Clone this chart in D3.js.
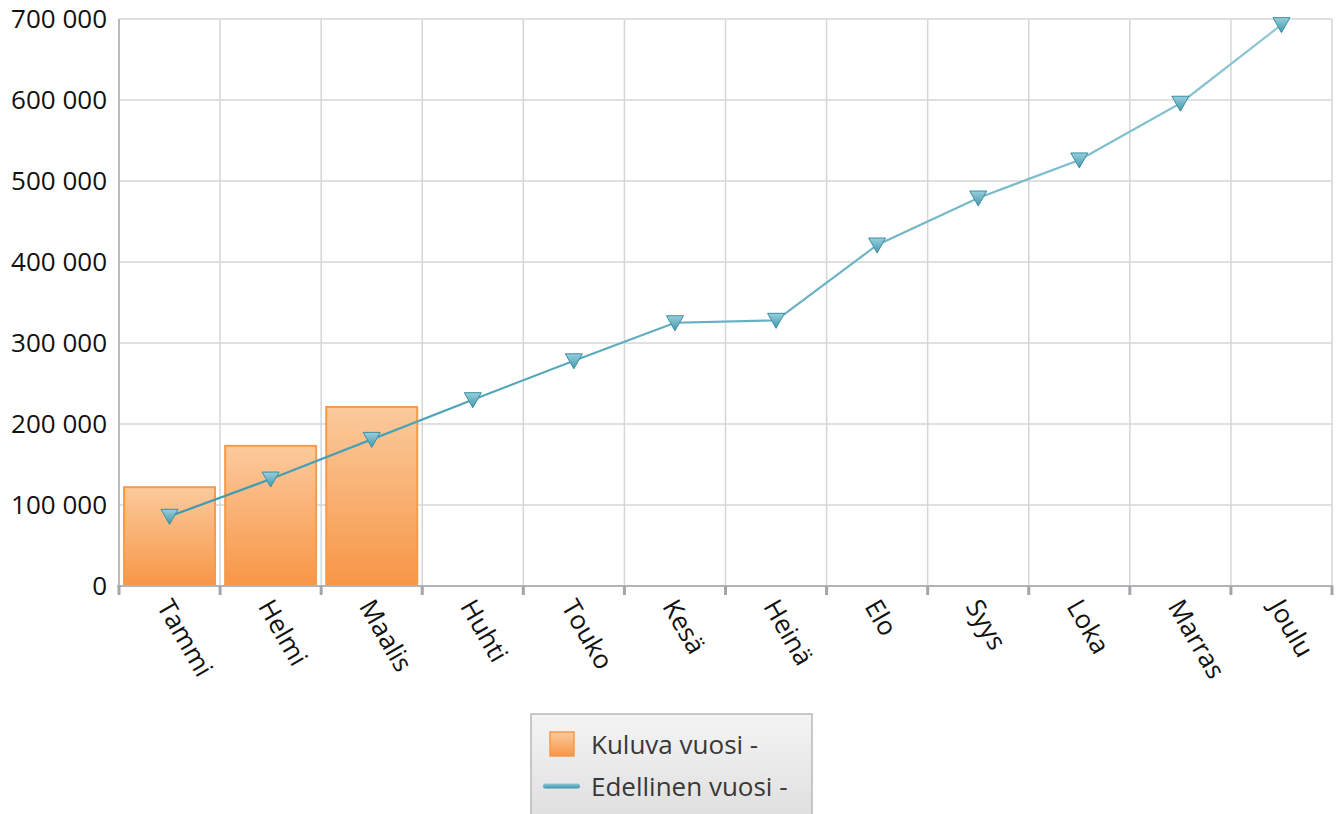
<!DOCTYPE html>
<html>
<head>
  <meta charset="UTF-8">
  <style>
body{
    margin: 0;
    background: #fff;
}
svg text{
    font-family: "Open Sans", "Noto Sans", sans-serif;
}
  </style>
</head>
<body>
<svg></svg>

<script src="https://cdn.jsdelivr.net/npm/d3@7/dist/d3.min.js"></script>

<script>

// chart data
let months = ["Tammi", "Helmi", "Maalis", "Huhti", "Touko", "Kesä", "Heinä", "Elo", "Syys", "Loka", "Marras", "Joulu"];
let currentYear = [122000, 173000, 221000];
let previousYear = [86000, 132000, 181000, 230000, 278000, 325000, 328000, 421000, 479000, 526000, 596000, 693000];
let yTicks = [0, 100000, 200000, 300000, 400000, 500000, 600000, 700000];
let legendLabels = ["Kuluva vuosi -", "Edellinen vuosi -"];

let width = 1340, height = 814;
let pLeft = 119, pRight = 1332, pTop = 19, pBottom = 586;

let svg = d3.select("svg")
    .attr("width", width)
    .attr("height", height)
    .attr("viewBox", "0 0 " + width + " " + height)

let fi = d3.formatLocale({decimal: ",", thousands: " ", grouping: [3], currency: ["", " €"]});
let fmt = fi.format(",");

let x = d3.scaleBand()
    .domain(months)
    .range([pLeft, pRight])
    .padding(0)

let y = d3.scaleLinear()
    .domain([0, 700000])
    .range([pBottom, pTop])

let defs = svg.append("defs");

let barGrad = defs.append("linearGradient")
    .attr("id", "barGrad")
    .attr("x1", 0).attr("y1", 0).attr("x2", 0).attr("y2", 1);
barGrad.append("stop").attr("offset", "0%").attr("stop-color", "#fbca9c");
barGrad.append("stop").attr("offset", "100%").attr("stop-color", "#f79647");

let lineGrad = defs.append("linearGradient")
    .attr("id", "lineGrad")
    .attr("gradientUnits", "userSpaceOnUse")
    .attr("x1", pLeft).attr("y1", 0).attr("x2", pRight).attr("y2", 0);
lineGrad.append("stop").attr("offset", "0%").attr("stop-color", "#3897ae");
lineGrad.append("stop").attr("offset", "100%").attr("stop-color", "#92c8d5");

let markGrad = defs.append("linearGradient")
    .attr("id", "markGrad")
    .attr("x1", 0).attr("y1", 0).attr("x2", 0).attr("y2", 1);
markGrad.append("stop").attr("offset", "0%").attr("stop-color", "#98cfdc");
markGrad.append("stop").attr("offset", "100%").attr("stop-color", "#4298ad");

let legGrad = defs.append("linearGradient")
    .attr("id", "legGrad")
    .attr("x1", 0).attr("y1", 0).attr("x2", 0).attr("y2", 1);
legGrad.append("stop").attr("offset", "0%").attr("stop-color", "#f4f4f4");
legGrad.append("stop").attr("offset", "100%").attr("stop-color", "#dedede");

let swLineGrad = defs.append("linearGradient")
    .attr("id", "swLineGrad")
    .attr("x1", 0).attr("y1", 0).attr("x2", 0).attr("y2", 1);
swLineGrad.append("stop").attr("offset", "0%").attr("stop-color", "#8ccad8");
swLineGrad.append("stop").attr("offset", "100%").attr("stop-color", "#3b93a9");

// grid
let grid = svg.append("g");
grid.selectAll("line.h")
    .data(yTicks)
  .enter().append("line")
    .attr("x1", pLeft).attr("x2", pRight)
    .attr("y1", d => y(d)).attr("y2", d => y(d))
    .attr("stroke", "#d6d6d6")
    .attr("stroke-width", 1.5)
grid.selectAll("line.v")
    .data(d3.range(1, months.length + 1))
  .enter().append("line")
    .attr("x1", d => pLeft + x.step() * d)
    .attr("x2", d => pLeft + x.step() * d)
    .attr("y1", pTop).attr("y2", pBottom)
    .attr("stroke", "#d6d6d6")
    .attr("stroke-width", 1.5)

// left axis line
svg.append("line")
    .attr("x1", pLeft).attr("x2", pLeft)
    .attr("y1", pTop).attr("y2", pBottom)
    .attr("stroke", "#b9b9b9")
    .attr("stroke-width", 2)

// y labels
svg.append("g").selectAll("text")
    .data(yTicks)
  .enter().append("text")
    .attr("x", 107)
    .attr("y", d => y(d))
    .attr("dy", "0.36em")
    .attr("text-anchor", "end")
    .attr("font-size", 26)
    .attr("fill", "#111")
    .text(d => fmt(d))

// bars
let inset = x.step() * 0.05;
svg.append("g").selectAll("rect")
    .data(currentYear)
  .enter().append("rect")
    .attr("x", (d, i) => x(months[i]) + inset)
    .attr("width", x.bandwidth() - inset * 2)
    .attr("y", d => y(d))
    .attr("height", d => pBottom - y(d))
    .attr("fill", "url(#barGrad)")
    .attr("stroke", "#f59b4b")
    .attr("stroke-width", 2)

// bottom axis
svg.append("line")
    .attr("x1", pLeft - 2).attr("x2", pRight + 1)
    .attr("y1", pBottom).attr("y2", pBottom)
    .attr("stroke", "#b4b4b4")
    .attr("stroke-width", 2)
svg.append("g").selectAll("line")
    .data(d3.range(months.length + 1))
  .enter().append("line")
    .attr("x1", d => pLeft + x.step() * d)
    .attr("x2", d => pLeft + x.step() * d)
    .attr("y1", pBottom).attr("y2", pBottom + 9)
    .attr("stroke", "#a3a7ab")
    .attr("stroke-width", 3)

// x labels
svg.append("g").selectAll("text")
    .data(months)
  .enter().append("text")
    .attr("transform", d => "translate(" + (x(d) + x.bandwidth() / 2 + 3) + "," + 597 + ") rotate(60)")
    .attr("dy", "0.72em")
    .attr("font-size", 26)
    .attr("fill", "#111")
    .text(d => d)

// line
let line = d3.line()
    .x((d, i) => x(months[i]) + x.bandwidth() / 2)
    .y(d => y(d))

svg.append("path")
    .datum(previousYear)
    .attr("d", line)
    .attr("fill", "none")
    .attr("stroke", "url(#lineGrad)")
    .attr("stroke-width", 2.2)

svg.append("g").selectAll("path")
    .data(previousYear)
  .enter().append("path")
    .attr("transform", (d, i) => "translate(" + (x(months[i]) + x.bandwidth() / 2) + "," + y(d) + ")")
    .attr("d", "M-8.5,-7L8.5,-7L0,8Z")
    .attr("fill", "url(#markGrad)")
    .attr("stroke", "#3a8ea4")
    .attr("stroke-width", 1)

// legend
let legend = svg.append("g");
legend.append("rect")
    .attr("x", 531).attr("y", 714)
    .attr("width", 281).attr("height", 110)
    .attr("fill", "url(#legGrad)")
    .attr("stroke", "#b8b8b8")
    .attr("stroke-width", 1.5)
legend.append("rect")
    .attr("x", 550).attr("y", 732)
    .attr("width", 24).attr("height", 24)
    .attr("fill", "url(#barGrad)")
    .attr("stroke", "#f59b4b")
    .attr("stroke-width", 1.5)
legend.append("rect")
    .attr("x", 543).attr("y", 783.5)
    .attr("width", 37).attr("height", 5)
    .attr("rx", 2.5)
    .attr("fill", "url(#swLineGrad)")
legend.selectAll("text")
    .data(legendLabels)
  .enter().append("text")
    .attr("x", 591)
    .attr("y", (d, i) => 754 + i * 42)
    .attr("font-size", 26)
    .attr("fill", "#383838")
    .text(d => d)

</script>
</body>
</html>
